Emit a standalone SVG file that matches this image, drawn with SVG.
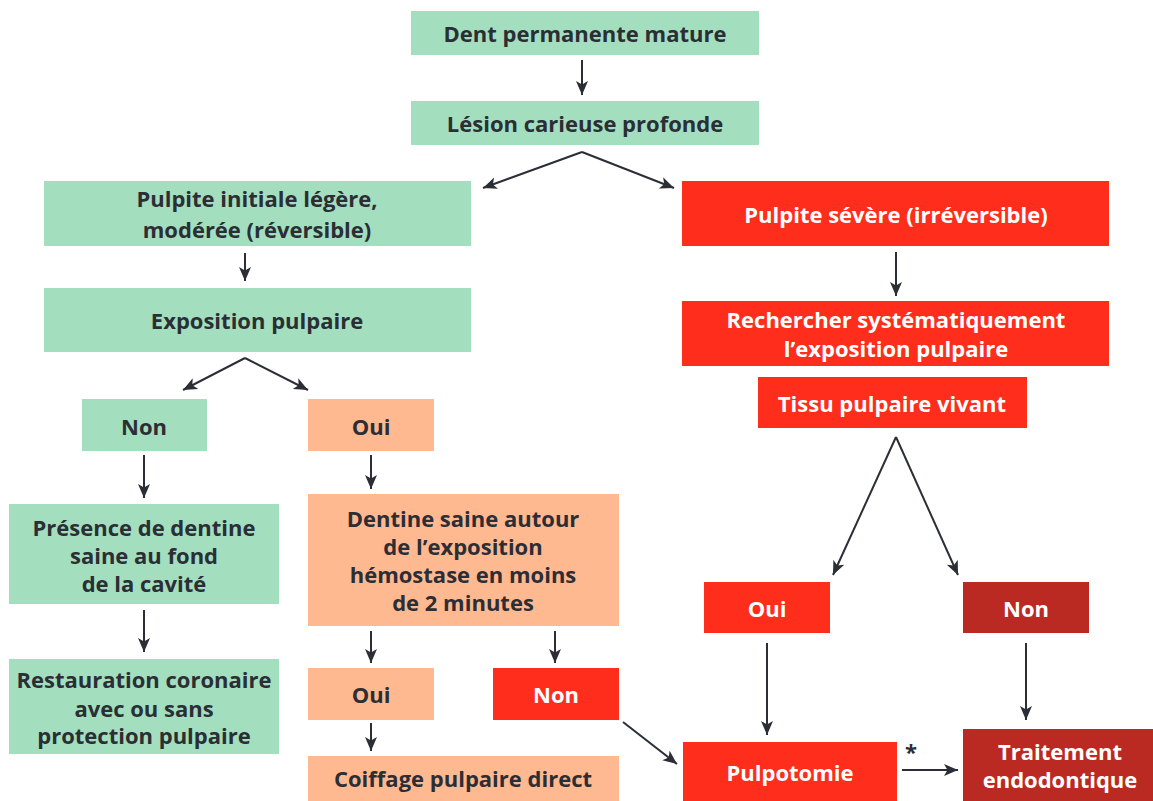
<svg xmlns="http://www.w3.org/2000/svg" width="1153" height="801" viewBox="0 0 1153 801">
<style>
.g{fill:#a3dfbf}
.o{fill:#ffb991}
.r{fill:#ff2d1c}
.d{fill:#bb2a22}
text{font-family:"Open Sans","Liberation Sans",sans-serif;font-weight:700;font-size:22px;text-anchor:middle}
.t{fill:#2b2e35}
.w{fill:#ffffff}
.c line{stroke:#2b2e35;stroke-width:2;marker-end:url(#ah)}
</style>
<defs>
<marker id="ah" markerUnits="userSpaceOnUse" markerWidth="16" markerHeight="14" refX="14" refY="6" orient="auto">
<path d="M0,0 L14,6 L0,12 L3.5,6 z" fill="#2b2e35"/>
</marker>
</defs>
<rect width="1153" height="801" fill="#ffffff"/>
<g id="n1"><rect class="g" x="411" y="11" width="348" height="44"/><text class="t" x="585" y="42">Dent permanente mature</text></g>
<g id="n2"><rect class="g" x="411" y="101" width="348" height="44"/><text class="t" x="585" y="132">Lésion carieuse profonde</text></g>
<g id="n3"><rect class="g" x="44" y="181" width="427" height="65"/><text class="t" x="257" y="207">Pulpite initiale légère,</text><text class="t" x="257" y="238">modérée (réversible)</text></g>
<g id="n4"><rect class="r" x="682" y="181" width="427" height="65"/><text class="w" x="896" y="223">Pulpite sévère (irréversible)</text></g>
<g id="n5"><rect class="g" x="44" y="288" width="427" height="64"/><text class="t" x="257" y="329">Exposition pulpaire</text></g>
<g id="n6"><rect class="r" x="682" y="301" width="427" height="65"/><text class="w" x="896" y="328">Rechercher systématiquement</text><text class="w" x="896" y="357">l’exposition pulpaire</text></g>
<g id="n7"><rect class="r" x="758" y="377" width="269" height="51"/><text class="w" x="892" y="412">Tissu pulpaire vivant</text></g>
<g id="n8"><rect class="g" x="82" y="399" width="125" height="52"/><text class="t" x="144" y="435">Non</text></g>
<g id="n9"><rect class="o" x="308" y="399" width="126" height="52"/><text class="t" x="371" y="435">Oui</text></g>
<g id="n10"><rect class="g" x="9" y="504" width="270" height="100"/><text class="t" x="144" y="536">Présence de dentine</text><text class="t" x="144" y="564">saine au fond</text><text class="t" x="144" y="592">de la cavité</text></g>
<g id="n11"><rect class="o" x="308" y="494" width="311" height="132"/><text class="t" x="463" y="527">Dentine saine autour</text><text class="t" x="463" y="555">de l’exposition</text><text class="t" x="463" y="583">hémostase en moins</text><text class="t" x="463" y="611">de 2 minutes</text></g>
<g id="n12"><rect class="g" x="9" y="659" width="270" height="95"/><text class="t" x="144" y="688">Restauration coronaire</text><text class="t" x="144" y="717">avec ou sans</text><text class="t" x="144" y="744">protection pulpaire</text></g>
<g id="n13"><rect class="o" x="308" y="668" width="126" height="52"/><text class="t" x="371" y="703">Oui</text></g>
<g id="n14"><rect class="r" x="493" y="668" width="126" height="52"/><text class="w" x="556" y="703">Non</text></g>
<g id="n15"><rect class="o" x="308" y="756" width="311" height="45"/><text class="t" x="463" y="787">Coiffage pulpaire direct</text></g>
<g id="n16"><rect class="r" x="704" y="582" width="126" height="51"/><text class="w" x="767" y="617">Oui</text></g>
<g id="n17"><rect class="d" x="963" y="582" width="126" height="51"/><text class="w" x="1026" y="617">Non</text></g>
<g id="n18"><rect class="r" x="683" y="742" width="214" height="59"/><text class="w" x="790" y="781">Pulpotomie</text></g>
<g id="n19"><rect class="d" x="963" y="729" width="190" height="72"/><text class="w" x="1060" y="760">Traitement</text><text class="w" x="1060" y="788">endodontique</text></g>
<g id="connectors" class="c">
<line x1="582" y1="60" x2="582" y2="95"/>
<line x1="582" y1="152" x2="483" y2="188"/>
<line x1="582" y1="152" x2="674" y2="188"/>
<line x1="245" y1="253" x2="245" y2="281"/>
<line x1="896" y1="252" x2="896" y2="296"/>
<line x1="245" y1="358" x2="183" y2="390"/>
<line x1="245" y1="358" x2="308" y2="390"/>
<line x1="144" y1="455" x2="144" y2="498"/>
<line x1="371" y1="455" x2="371" y2="489"/>
<line x1="896" y1="437" x2="833" y2="575"/>
<line x1="896" y1="437" x2="958" y2="575"/>
<line x1="144" y1="610" x2="144" y2="652"/>
<line x1="371" y1="631" x2="371" y2="663"/>
<line x1="555" y1="631" x2="555" y2="663"/>
<line x1="371" y1="723" x2="371" y2="751"/>
<line x1="623" y1="722" x2="677" y2="764"/>
<line x1="767" y1="643" x2="767" y2="735"/>
<line x1="1026" y1="643" x2="1026" y2="720"/>
<line x1="902" y1="770" x2="958" y2="770"/>
</g>
<text class="t" x="911" y="760">*</text>
</svg>
